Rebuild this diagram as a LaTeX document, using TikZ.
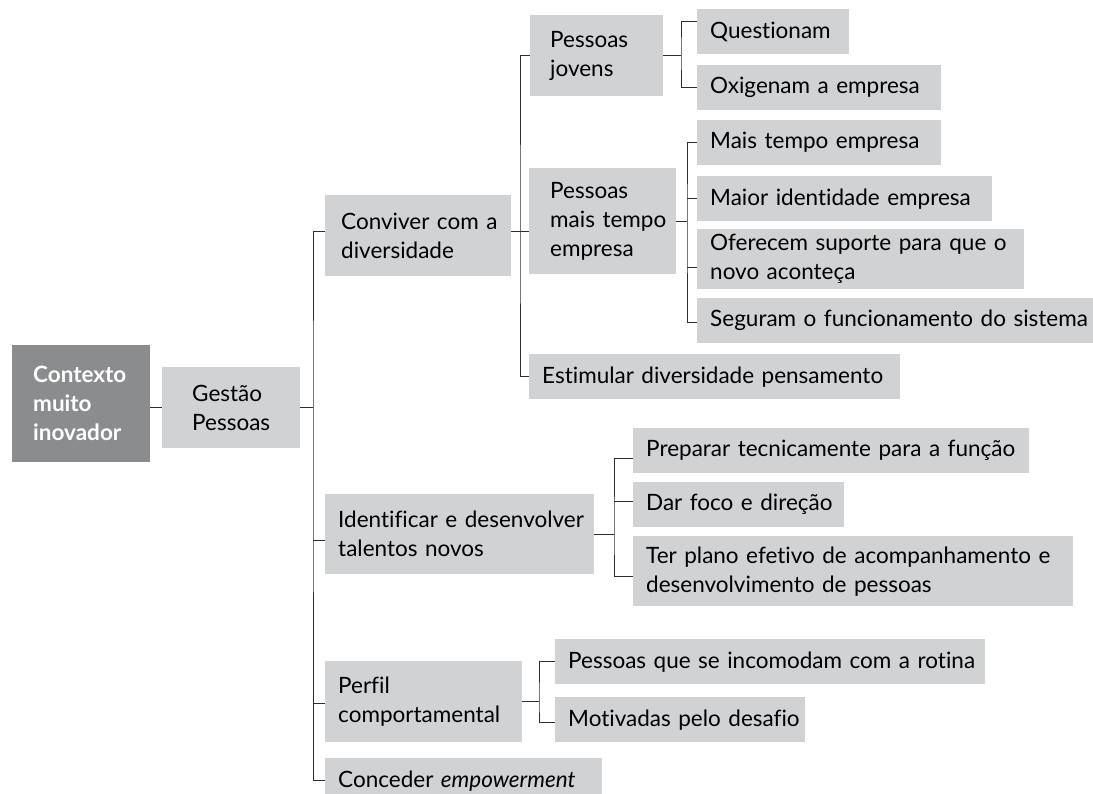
\documentclass[tikz,border=0pt]{standalone}
\usepackage{fontspec}
\setmainfont{Lato}[Ligatures=CommonOff]
\definecolor{boxgray}{RGB}{209,210,212}
\definecolor{ctxgray}{RGB}{139,140,142}
\definecolor{linegray}{RGB}{45,45,45}

\begin{document}
\begin{tikzpicture}[x=1pt, y=-1pt,
    box/.style={fill=boxgray, anchor=north west, inner xsep=0pt, inner ysep=0pt,
                font=\fontsize{22.5}{29}\selectfont,
                execute at begin node={\raggedright\leftskip=13pt\hyphenpenalty=10000}},
    link/.style={draw=linegray, line width=1pt}]
	\useasboundingbox (0,0) rectangle (1093,793);

	\node[box, fill=ctxgray, text=white, text width=138pt, minimum height=117pt,
	      font=\fontsize{22.5}{29}\selectfont\bfseries,
	      execute at begin node={\raggedright\leftskip=21pt}]               (ctx)    at (12,345)  {Contexto\\muito\\inovador};
	\node[box, align=left, minimum width=138pt, minimum height=81pt,
	      execute at begin node={}]                                        (gest)   at (162,367) {Gestão\\Pessoas};

	\node[box, text width=186pt, minimum height=81pt,
	      execute at begin node={\raggedright\leftskip=16pt}]               (conv)   at (325,195) {Conviver com a\\diversidade};
	\node[box, text width=269pt, minimum height=80pt]                     (ident)  at (325,494) {Identificar e desenvolver\\talentos novos};
	\node[box, text width=197pt, minimum height=81pt]                     (perfil) at (325,661) {Perfil\\comportamental};
	\node[box, text width=277pt, minimum height=45pt]                     (conc)   at (325,758) {Conceder \emph{empowerment}};

	\node[box, text width=133pt, minimum height=81pt,
	      execute at begin node={\raggedright\leftskip=20pt}]               (pj)     at (530,15)  {Pessoas\\jovens};
	\node[box, text width=147pt, minimum height=106pt,
	      execute at begin node={\raggedright\leftskip=21pt}]               (pmt)    at (529,168) {Pessoas\\mais tempo\\empresa};
	\node[box, text width=371pt, minimum height=45pt]                     (est)    at (529,354) {Estimular diversidade pensamento};

	\node[box, text width=152pt, minimum height=45pt]                     (q)      at (697,9)   {Questionam};
	\node[box, text width=244pt, minimum height=45pt]                     (ox)     at (697,65)  {Oxigenam a empresa};
	\node[box, text width=244pt, minimum height=45pt]                     (mt)     at (697,120) {Mais tempo empresa};
	\node[box, text width=295pt, minimum height=45pt]                     (mi)     at (697,176) {Maior identidade empresa};
	\node[box, text width=327pt, minimum height=60pt]                     (of)     at (697,229) {Oferecem suporte para que o\\novo aconteça};
	\node[box, text width=396pt, minimum height=45pt]                     (seg)    at (697,298) {Seguram o funcionamento do sistema};

	\node[box, text width=396pt, minimum height=45pt]                     (prep)   at (633,428) {Preparar tecnicamente para a função};
	\node[box, text width=211pt, minimum height=45pt]                     (dar)    at (633,482) {Dar foco e direção};
	\node[box, text width=440pt, minimum height=70pt]                     (ter)    at (633,536) {Ter plano efetivo de acompanhamento e\\desenvolvimento de pessoas};

	\node[box, text width=430pt, minimum height=45pt]                     (inc)    at (555,639) {Pessoas que se incomodam com a rotina};
	\node[box, text width=250pt, minimum height=45pt]                     (mot)    at (555,697) {Motivadas pelo desafio};

	\coordinate (t)  at (313,408);
	\coordinate (v1) at (520,232);
	\coordinate (v2) at (681,53);
	\coordinate (v3) at (687,225);
	\coordinate (v4) at (614,534);
	\coordinate (v5) at (539,703);

	\path [link] (gest.west -| ctx.east) edge (gest.west);
	\path [link] (gest.east) edge (gest.east -| t);
	\draw [link] ([yshift=4pt]conv.west) -| (t) |- (conc.west);
	\path [link] ([yshift=-6pt]ident.west) edge ([yshift=-6pt]ident.west -| t);
	\path [link] ([yshift=-2pt]perfil.west) edge ([yshift=-2pt]perfil.west -| t);

	\path [link] ([yshift=4pt]conv.east) edge ([yshift=4pt]conv.east -| pmt.west);
	\draw [link] (pj.west) -| (v1) |- (est.west);

	\path [link] (pj.east) edge (pj.east -| v2);
	\draw [link] ([yshift=10pt]q.west) -| (v2) |- (ox.west);

	\path [link] (pmt.east) edge (pmt.east -| v3);
	\draw [link] (mt.west) -| (v3) |- ([yshift=-2pt]seg.west);
	\path [link] (mi.west) edge (mi.west -| v3);
	\path [link] ([yshift=-8pt]of.west) edge ([yshift=-8pt]of.west -| v3);

	\path [link] (ident.east) edge (ident.east -| v4);
	\draw [link] ([yshift=-8pt]prep.west) -| (v4) |- ([yshift=-5pt]ter.west);
	\path [link] ([yshift=3pt]dar.west) edge ([yshift=3pt]dar.west -| v4);

	\path [link] (perfil.east) edge (perfil.east -| v5);
	\draw [link] (inc.west) -| (v5) |- ([yshift=-3pt]mot.west);
\end{tikzpicture}
\end{document}
